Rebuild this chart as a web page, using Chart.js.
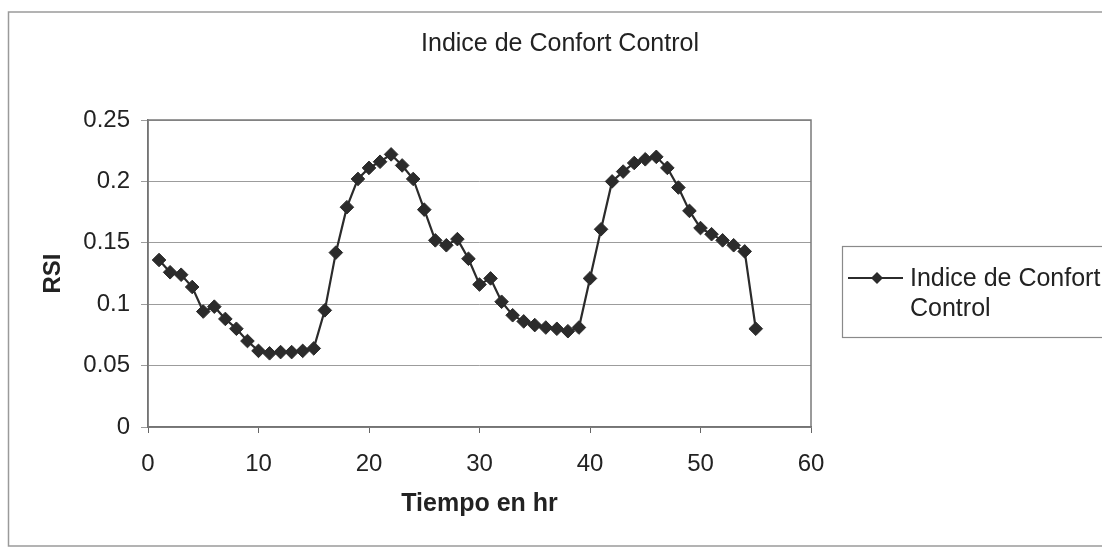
<!DOCTYPE html>
<html>
<head>
<meta charset="utf-8">
<title>Indice de Confort Control</title>
<script src="https://cdn.jsdelivr.net/npm/chart.js@4/dist/chart.umd.min.js"></script>
<style>
  html, body { margin: 0; padding: 0; background: #fff; }
  #wrap { width: 1102px; height: 550px; }
</style>
</head>
<body>
<div id="wrap"><canvas id="grafRsi"></canvas></div>
<script>
// horas de simulacion y RSI medido
var horas = [
    1, 2, 3, 4, 5, 6, 7, 8, 9, 10,
    11, 12, 13, 14, 15, 16, 17, 18, 19, 20,
    21, 22, 23, 24, 25, 26, 27, 28, 29, 30,
    31, 32, 33, 34, 35, 36, 37, 38, 39, 40,
    41, 42, 43, 44, 45, 46, 47, 48, 49, 50,
    51, 52, 53, 54, 55
];
var rsiControl = [
    0.136, 0.126, 0.124, 0.114, 0.094, 0.098, 0.088, 0.080, 0.070, 0.062,
    0.060, 0.061, 0.061, 0.062, 0.064, 0.095, 0.142, 0.179, 0.202, 0.211,
    0.216, 0.222, 0.213, 0.202, 0.177, 0.152, 0.148, 0.153, 0.137, 0.116,
    0.121, 0.102, 0.091, 0.086, 0.083, 0.081, 0.080, 0.078, 0.081, 0.121,
    0.161, 0.200, 0.208, 0.215, 0.218, 0.220, 0.211, 0.195, 0.176, 0.162,
    0.157, 0.152, 0.148, 0.143, 0.080
];
var ticksX = [0, 10, 20, 30, 40, 50, 60];
var ticksY = [0, 0.05, 0.1, 0.15, 0.2, 0.25];

var titulo = 'Indice de Confort Control';
var serieNombre = ['Indice de Confort', 'Control'];
var fuente = '"Liberation Sans", Arial, sans-serif';
var colorSerie = '#2b2b2b';

// fondo, marco exterior, titulo y marco del area de trazado
var marcoPlugin = {
    id: 'marco',
    beforeDraw: function (chart) {
        var c = chart.ctx;
        c.save();
        c.fillStyle = '#fff';
        c.fillRect(0, 0, chart.width, chart.height);
        c.strokeStyle = '#9a9a9a';
        c.lineWidth = 1.5;
        c.strokeRect(8.5, 12, 1110, 534);
        c.fillStyle = '#222';
        c.font = '25px ' + fuente;
        c.textAlign = 'center';
        c.textBaseline = 'middle';
        c.fillText(titulo, 560, 44);
        c.restore();
    },
    beforeDatasetsDraw: function (chart) {
        var a = chart.chartArea;
        var c = chart.ctx;
        c.save();
        c.strokeStyle = '#7a7a7a';
        c.lineWidth = 1.5;
        c.strokeRect(a.left, a.top, a.right - a.left, a.bottom - a.top);
        c.restore();
    }
};

// leyenda en caja a la derecha, con el nombre partido en dos lineas
var leyendaPlugin = {
    id: 'leyendaCaja',
    afterDraw: function (chart) {
        var c = chart.ctx;
        var x = 842, y = 246;
        c.save();
        c.strokeStyle = '#8a8a8a';
        c.lineWidth = 1.2;
        c.strokeRect(x + 0.5, y + 0.5, 300, 91);
        c.strokeStyle = colorSerie;
        c.lineWidth = 2.2;
        c.beginPath();
        c.moveTo(x + 6, y + 32);
        c.lineTo(x + 61, y + 32);
        c.stroke();
        c.fillStyle = colorSerie;
        c.beginPath();
        c.moveTo(x + 35, y + 26);
        c.lineTo(x + 41, y + 32);
        c.lineTo(x + 35, y + 38);
        c.lineTo(x + 29, y + 32);
        c.closePath();
        c.fill();
        c.fillStyle = '#222';
        c.font = '25px ' + fuente;
        c.textAlign = 'left';
        c.textBaseline = 'alphabetic';
        c.fillText(serieNombre[0], x + 68, y + 40);
        c.fillText(serieNombre[1], x + 68, y + 70);
        c.restore();
    }
};

var ctx = document.getElementById('grafRsi').getContext('2d');
new Chart(ctx, {
    type: 'line',
    data: {
        labels: horas,
        datasets: [{
            label: serieNombre.join(' '),
            data: horas.map(function (h, i) { return { x: h, y: rsiControl[i] }; }),
            borderColor: colorSerie,
            backgroundColor: colorSerie,
            borderWidth: 2.2,
            pointStyle: 'rectRot',
            pointRadius: 6.8,
            pointBorderWidth: 1,
            pointBackgroundColor: colorSerie,
            pointBorderColor: colorSerie,
            tension: 0
        }]
    },
    options: {
        responsive: true,
        maintainAspectRatio: false,
        animation: false,
        layout: {
            padding: { left: 34, right: 291, top: 120, bottom: 23 }
        },
        plugins: {
            legend: { display: false },
            title: { display: false },
            tooltip: { enabled: false }
        },
        scales: {
            x: {
                type: 'linear',
                min: ticksX[0],
                max: ticksX[ticksX.length - 1],
                afterBuildTicks: function (scale) {
                    scale.ticks = ticksX.map(function (v) { return { value: v }; });
                },
                afterFit: function (scale) { scale.height = 100; },
                grid: {
                    drawOnChartArea: false,
                    drawTicks: true,
                    tickLength: 6,
                    color: '#666'
                },
                border: { display: true, color: '#666', width: 1.5 },
                ticks: {
                    color: '#222',
                    padding: 17,
                    maxRotation: 0,
                    font: { family: fuente, size: 24 }
                },
                title: {
                    display: true,
                    text: 'Tiempo en hr',
                    color: '#222',
                    padding: { top: 0, bottom: 8 },
                    font: { family: fuente, size: 25, weight: 'bold' }
                }
            },
            y: {
                min: ticksY[0],
                max: ticksY[ticksY.length - 1],
                afterBuildTicks: function (scale) {
                    scale.ticks = ticksY.map(function (v) { return { value: v }; });
                },
                afterFit: function (scale) { scale.width = 114; },
                grid: {
                    color: '#9c9c9c',
                    lineWidth: 1,
                    drawTicks: true,
                    tickLength: 7
                },
                border: { display: true, color: '#666', width: 1.5 },
                ticks: {
                    color: '#222',
                    padding: 11,
                    font: { family: fuente, size: 24 },
                    callback: function (v) { return String(+v.toFixed(2)); }
                },
                title: {
                    display: true,
                    text: 'RSI',
                    color: '#222',
                    padding: { top: 5, bottom: 0 },
                    font: { family: fuente, size: 24, weight: 'bold' }
                }
            }
        }
    },
    plugins: [marcoPlugin, leyendaPlugin]
});
</script>
</body>
</html>
